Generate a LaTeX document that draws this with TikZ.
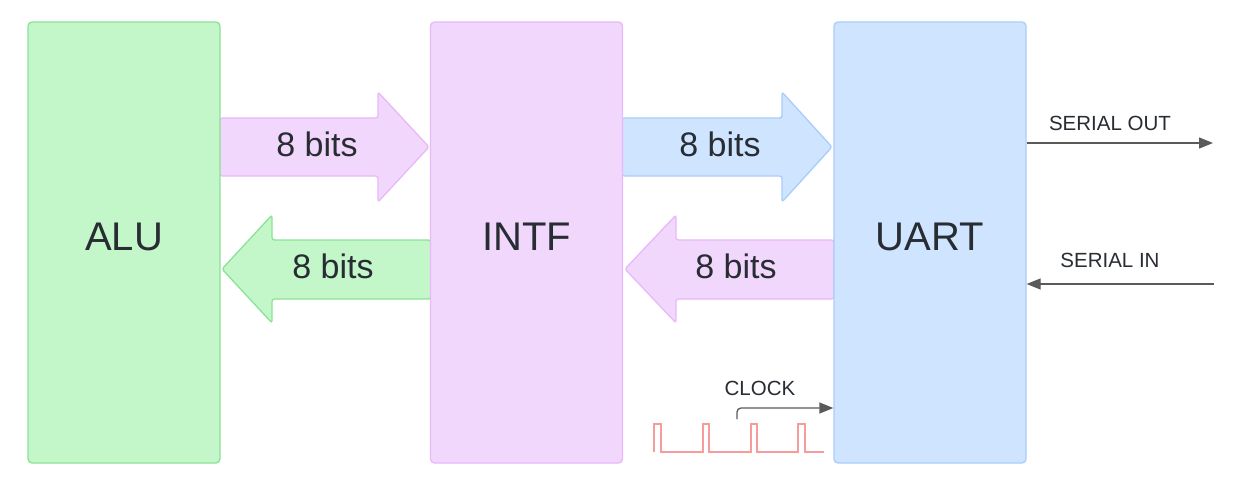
\documentclass[tikz,border=0pt]{standalone}
\usepackage{fontspec}
\setmainfont{Liberation Sans}
\usetikzlibrary{arrows.meta}
\definecolor{gfill}{RGB}{195,246,200}
\definecolor{gdraw}{RGB}{140,226,152}
\definecolor{pfill}{RGB}{242,215,253}
\definecolor{pdraw}{RGB}{232,184,249}
\definecolor{bfill}{RGB}{207,228,255}
\definecolor{bdraw}{RGB}{168,205,250}
\definecolor{txt}{RGB}{40,44,51}
\definecolor{sigc}{RGB}{90,90,90}
\definecolor{clkc}{RGB}{248,155,155}
\newcommand{\boxtext}[1]{\raisebox{6pt}[\height][\depth]{#1}}
\begin{document}
\begin{tikzpicture}[x=1pt,y=-1pt,
  box/.style={rounded corners=4pt, line width=1.3pt, minimum width=192pt, minimum height=441pt,
    text=txt, font=\fontsize{40}{48}\selectfont},
  bigarrow/.style={rounded corners=2.5pt, line width=1.3pt},
  bitlabel/.style={text=txt, font=\fontsize{34}{40}\selectfont},
  sig/.style={draw=sigc, line width=1.3pt, -{Triangle[length=14pt,width=11pt]}},
  siglabel/.style={text=txt, font=\fontsize{20.5}{24}\selectfont}]
\useasboundingbox (0,0) rectangle (1235,480);
\fill[white] (0,0) rectangle (1235,480);

% big arrows
\draw[bigarrow, fill=pfill, draw=pdraw] (220,118) -- (378,118) -- (378,92) -- (429,147) -- (378,202) -- (378,176) -- (220,176) -- cycle;
\draw[bigarrow, fill=gfill, draw=gdraw] (431,240) -- (272,240) -- (272,215) -- (222,269) -- (272,323) -- (272,299) -- (431,299) -- cycle;
\draw[bigarrow, fill=bfill, draw=bdraw] (622,118) -- (782,118) -- (782,92) -- (832,147) -- (782,202) -- (782,176) -- (622,176) -- cycle;
\draw[bigarrow, fill=pfill, draw=pdraw] (834,240) -- (676,240) -- (676,215) -- (625,269) -- (676,323) -- (676,299) -- (834,299) -- cycle;

% blocks
\node[box, fill=gfill, draw=gdraw] (alu) at (124,242.5) {\boxtext{ALU}};
\node[box, fill=pfill, draw=pdraw] (intf) at (526.5,242.5) {\boxtext{INTF}};
\node[box, fill=bfill, draw=bdraw] (uart) at (930,242.5) {\boxtext{UART}};

% labels of big arrows
\node[bitlabel] (l1) at (317,144) {8 bits};
\node[bitlabel] (l2) at (333,266) {8 bits};
\node[bitlabel] (l3) at (720,144) {8 bits};
\node[bitlabel] (l4) at (736,266) {8 bits};

% serial lines
\coordinate (soend) at (1213,143);
\coordinate (siend) at (1214,284);
\draw[sig] (uart.east |- soend) -- (soend);
\draw[sig] (siend) -- (uart.east |- siend);
\node[siglabel] (solabel) at (1110,123) {SERIAL OUT};
\node[siglabel] (silabel) at (1110,260) {SERIAL IN};

% clock
\coordinate (clkstart) at (737,419);
\coordinate (clkend) at (833,408);
\draw[sig, rounded corners=4pt] (clkstart) |- (uart.west |- clkend);
\node[siglabel] (clklabel) at (760,388) {CLOCK};
\draw[clkc, line width=1.1pt] (654,452) -- (654,424) -- (661,424) -- (661,452) -- (703,452) -- (703,424) -- (709,424) -- (709,452) -- (751,452) -- (751,424) -- (757,424) -- (757,452) -- (798,452) -- (798,424) -- (805,424) -- (805,452) -- (824,452);
\end{tikzpicture}
\end{document}
